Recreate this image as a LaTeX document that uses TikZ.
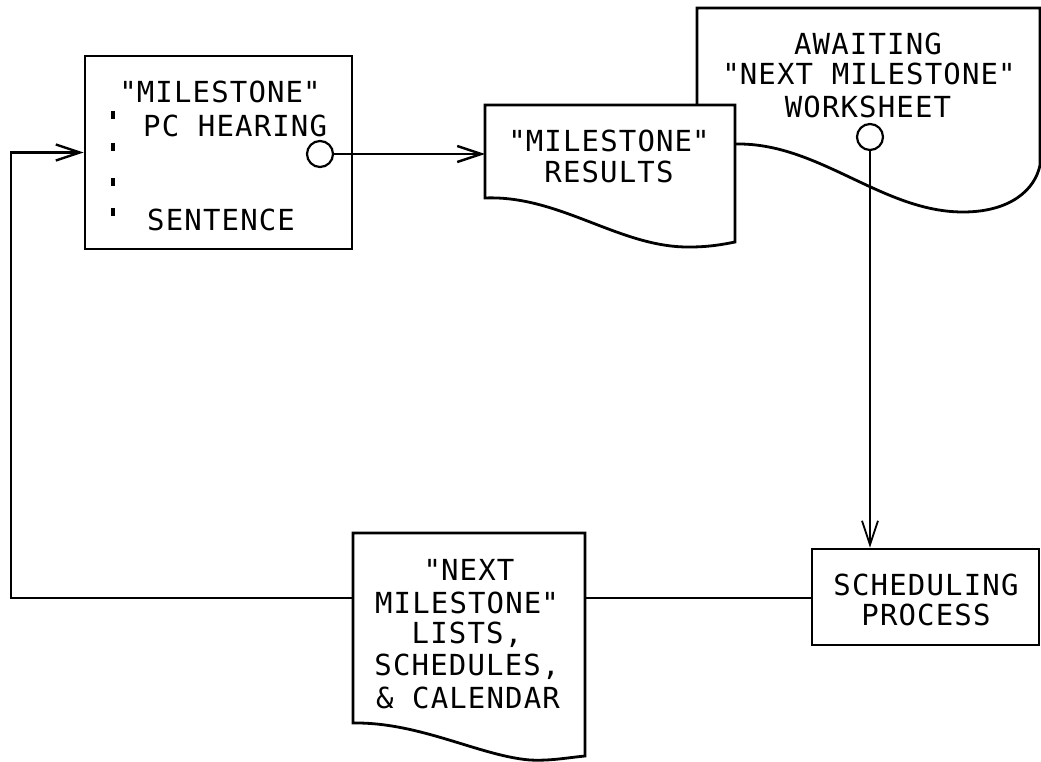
\documentclass[tikz,border=0pt]{standalone}
\usepackage{fontspec}
\newfontfamily\twfont[LetterSpace=4]{DejaVu Sans Mono}
\usetikzlibrary{arrows.meta}
\newcommand\tq{{\itshape"}}
\begin{document}
\begin{tikzpicture}[x=1pt,y=-1pt,
  tx/.style={font=\twfont\fontsize{29}{32}\selectfont, inner sep=0pt, anchor=base},
  ln/.style={line width=2.8pt, line join=miter},
  conn/.style={line width=2.4pt},
  arr/.style={-{Straight Barb[length=24pt,width=16pt,line width=2.4pt]}},
  ring/.style={draw, circle, line width=2.2pt, minimum size=26pt, inner sep=0pt, fill=white},
]
\useasboundingbox (0,0) rectangle (1041,762);

% milestone box
\node[draw, ln, minimum width=267pt, minimum height=193pt, inner sep=0pt] (box1) at (218.5,152.5) {};
\node[tx] (b1t1) at (220,103) {\tq MILESTONE\tq};
\node[tx, anchor=base west] (b1t2) at (143,137) {PC HEARING};
\node[tx, anchor=base west] (b1t3) at (147,230) {SENTENCE};
\foreach \yy in {115,147,182,212} \draw[line width=3.4pt] (113,\yy-4) -- (113,\yy+4);
\node[ring] (c1) at (320,154) {};

% worksheet document
\draw[ln] (697,150) -- (697,8) -- (1040,8) -- (1040,165)
  .. controls (1035,190) and (1010,212) .. (963,212)
  .. controls (870,212) and (800,120) .. (697,150);
\node[tx] (w1) at (868,55) {AWAITING};
\node[tx] (w2) at (869,85) {\tq NEXT MILESTONE\tq};
\node[tx] (w3) at (868,118) {WORKSHEET};

% results document
\draw[ln, fill=white] (485,105) -- (735,105) -- (735,242)
  .. controls (725,244) and (710,247) .. (690,247)
  .. controls (620,248) and (560,195) .. (485,198) -- cycle;
\node[tx] (r1) at (609,152) {\tq MILESTONE\tq};
\node[tx] (r2) at (609,183) {RESULTS};
\coordinate (resL) at (485,154);

\node[ring] (c2) at (870,137) {};

% scheduling process
\node[draw, ln, minimum width=227pt, minimum height=96pt, inner sep=0pt] (sched) at (925.5,597) {};
\node[tx] (s1) at (926,595) {SCHEDULING};
\node[tx] (s2) at (926,625) {PROCESS};

% next milestone lists document
\draw[ln, fill=white] (353,533) -- (585,533) -- (585,756)
  .. controls (565,758) and (550,761) .. (530,760)
  .. controls (480,756) and (420,722) .. (353,723) -- cycle;
\node[tx] (d1) at (469,580) {\tq NEXT};
\node[tx] (d2) at (467,613) {MILESTONE\tq};
\node[tx] (d3) at (467,643) {LISTS,};
\node[tx] (d4) at (467,675) {SCHEDULES,};
\node[tx] (d5) at (468,708) {\& CALENDAR};
\coordinate (d3L) at (353,598);
\coordinate (d3R) at (585,598);
\coordinate (loopBL) at (11,598);

% connectors
\draw[conn, arr] (c1.east) -- (resL);
\draw[line width=1.8pt, -{Straight Barb[length=24pt,width=16pt,line width=1.8pt]}] (c2.south) -- (c2.south |- sched.north);
\draw[conn] (d3R) -- (d3R -| sched.west);
\draw[conn, arr] (d3L) -- (loopBL) |- (box1.west);
\end{tikzpicture}
\end{document}
